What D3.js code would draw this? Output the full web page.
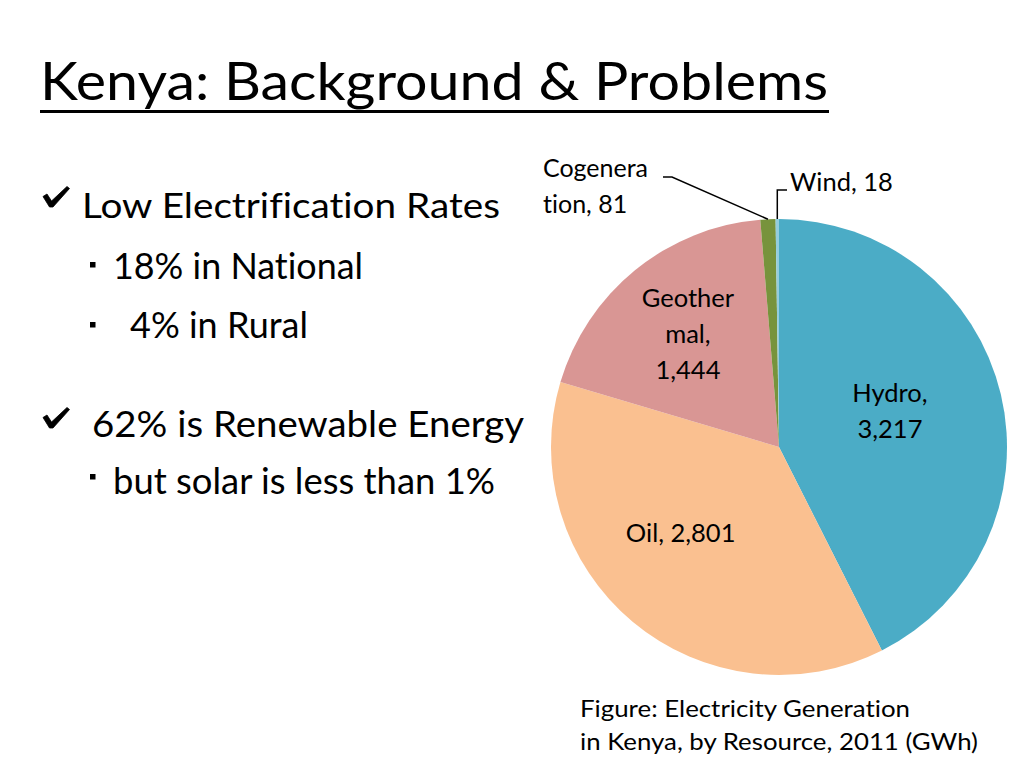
<!DOCTYPE html>
<html lang="en">
<head>
  <meta charset="UTF-8">
  <title>Kenya: Background & Problems</title>
  <script src="https://cdn.jsdelivr.net/npm/d3@7"></script>
  <style>
    html, body { margin: 0; padding: 0; background: #fff; }
    svg { display: block; }
    text { font-family: Lato, "Noto Sans", sans-serif; fill: #000; font-variant-ligatures: none; }
  </style>
</head>
<body>
<svg id="slide" width="1024" height="768"></svg>
<script>
  // data
  const resources = ['Hydro', 'Oil', 'Geothermal', 'Cogeneration', 'Wind'];
  const generation = [3217, 2801, 1444, 81, 18];
  const colors = ['#4BACC6', '#FAC090', '#D99694', '#77933C', '#93CDDD'];
  // how Excel wrapped the label names
  const nameLines = [['Hydro,'], ['Oil,'], ['Geother', 'mal,'], ['Cogenera', 'tion,'], ['Wind,']];

  const bullets = [
    {kind: 'check', text: 'Low Electrification Rates'},
    {kind: 'square', text: '18% in National'},
    {kind: 'square', text: '4% in Rural'},
    {kind: 'check', text: '62% is Renewable Energy'},
    {kind: 'square', text: 'but solar is less than 1%'}
  ];

  const fmt = d3.format(',');
  const svg = d3.select('#slide');

  // title
  svg.append('text')
    .attr('x', 40).attr('y', 100)
    .attr('font-size', 52)
    .attr('textLength', 788)
    .attr('lengthAdjust', 'spacingAndGlyphs')
    .text('Kenya: Background & Problems');
  svg.append('line')
    .attr('x1', 40).attr('x2', 829)
    .attr('y1', 111.5).attr('y2', 111.5)
    .attr('stroke', '#000').attr('stroke-width', 3);

  // bullet list
  const rows = [
    {y: 218, x: 82, w: 418, size: 35, markY: 207},
    {y: 279, x: 113, w: 250, size: 37, markY: 262},
    {y: 338, x: 130, w: 178, size: 37, markY: 322},
    {y: 437, x: 92, w: 432, size: 36, markY: 428},
    {y: 494, x: 113, w: 382, size: 37, markY: 474}
  ];
  const checkShape = 'M0,-10.5 L4,-13 L8.5,-6 L24,-20.5 L26.5,-18.5 L10,0 L6.5,0 Z';
  bullets.forEach((b, i) => {
    const r = rows[i];
    if (b.kind === 'check') {
      svg.append('path')
        .attr('transform', `translate(43,${r.markY})`)
        .attr('d', checkShape)
        .attr('fill', '#000')
        .attr('stroke', '#000')
        .attr('stroke-width', 0.8)
        .attr('stroke-linejoin', 'round');
    } else {
      svg.append('rect')
        .attr('x', 90).attr('y', r.markY)
        .attr('width', 5.5).attr('height', 5.5)
        .attr('fill', '#000');
    }
    svg.append('text')
      .attr('x', r.x).attr('y', r.y)
      .attr('font-size', r.size)
      .attr('textLength', r.w)
      .attr('lengthAdjust', 'spacingAndGlyphs')
      .text(b.text);
  });

  // pie
  const cx = 779, cy = 447, R = 228;
  const pie = d3.pie().sort(null).value(d => d);
  const arcs = pie(generation);
  const arc = d3.arc().innerRadius(0).outerRadius(R);
  const edge = d3.arc().innerRadius(R).outerRadius(R);
  const mid = d3.arc().innerRadius(R * 0.55).outerRadius(R * 0.55);

  const g = svg.append('g').attr('transform', `translate(${cx},${cy})`);
  g.selectAll('path.slice')
    .data(arcs)
    .join('path')
    .attr('class', 'slice')
    .attr('d', arc)
    .attr('fill', (d, i) => colors[i]);

  // label text for each slice
  const labelText = i => {
    const lines = nameLines[i].slice();
    const v = fmt(generation[i]);
    if (i === 0 || i === 2) lines.push(v);
    else lines[lines.length - 1] += ' ' + v;
    return lines;
  };

  // inside labels: centroid plus a nudge, lines centred on that point
  const inside = {0: [-11, -7], 1: [-18, -10], 2: [-12, -16]};
  const lineH = 36, labelSize = 25.5;
  Object.keys(inside).forEach(k => {
    const i = +k;
    const [mx, my] = mid.centroid(arcs[i]);
    const px = mx + inside[k][0], py = my + inside[k][1];
    const lines = labelText(i);
    const top = py - (lines.length - 1) * lineH / 2 + labelSize * 0.36;
    const t = g.append('text')
      .attr('text-anchor', 'middle')
      .attr('font-size', labelSize);
    lines.forEach((s, j) => {
      t.append('tspan').attr('x', px).attr('y', top + j * lineH).text(s);
    });
  });

  // outside labels with leader lines (page coords)
  const cog = svg.append('text')
    .attr('font-size', 25);
  labelText(3).forEach((s, j) => {
    cog.append('tspan').attr('x', 543).attr('y', 177 + j * 36).text(s);
  });
  const cogEdge = edge.centroid(arcs[3]);
  svg.append('polyline')
    .attr('points', [[663, 177], [672, 177], [cx + cogEdge[0], cy + cogEdge[1]]].join(' '))
    .attr('fill', 'none').attr('stroke', '#000').attr('stroke-width', 1.5);

  svg.append('text')
    .attr('x', 790).attr('y', 191)
    .attr('font-size', 25.5)
    .text(labelText(4)[0]);
  const windEdge = edge.centroid(arcs[4]);
  svg.append('polyline')
    .attr('points', [[787, 190], [cx + windEdge[0], 190], [cx + windEdge[0], cy + windEdge[1]]].join(' '))
    .attr('fill', 'none').attr('stroke', '#000').attr('stroke-width', 1.5);

  // caption
  svg.append('text')
    .attr('x', 580).attr('y', 717)
    .attr('font-size', 24)
    .attr('textLength', 330)
    .attr('lengthAdjust', 'spacingAndGlyphs')
    .text('Figure: Electricity Generation');
  svg.append('text')
    .attr('x', 580).attr('y', 750)
    .attr('font-size', 24)
    .attr('textLength', 398)
    .attr('lengthAdjust', 'spacingAndGlyphs')
    .text('in Kenya, by Resource, 2011 (GWh)');
</script>
</body>
</html>
